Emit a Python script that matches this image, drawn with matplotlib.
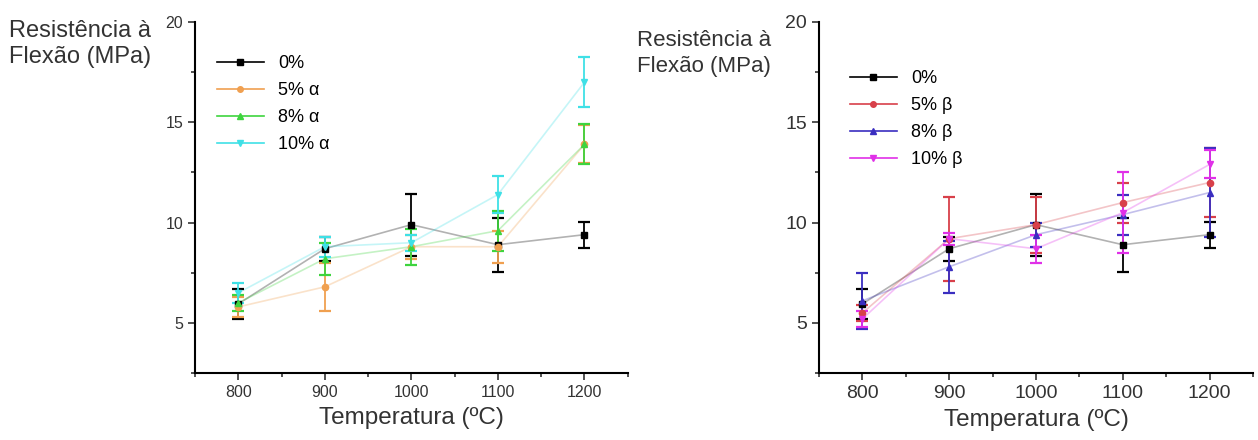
import matplotlib.pyplot as plt
from matplotlib.lines import Line2D
from matplotlib.ticker import MultipleLocator

plt.rcParams['font.family'] = ['Liberation Sans', 'DejaVu Sans']

# Temperaturas de sinterização
temps = [800, 900, 1000, 1100, 1200]

# Resistência à flexão (MPa) - referência
r0 = [5.95, 8.7, 9.9, 8.9, 9.4]
e0 = [0.75, 0.6, 1.55, 1.35, 0.65]

# alfa
a5 = [5.8, 6.8, 8.8, 8.8, 13.9]
ea5 = [0.5, 1.2, 0.6, 0.8, 0.95]
a8 = [6.0, 8.2, 8.8, 9.6, 13.9]
ea8 = [0.4, 0.8, 0.9, 1.0, 1.0]
a10 = [6.5, 8.8, 9.0, 11.4, 17.0]
ea10 = [0.5, 0.5, 0.4, 0.9, 1.25]

# beta
b5 = [5.5, 9.2, 9.9, 11.0, 12.0]
eb5 = [0.4, 2.1, 1.4, 1.0, 1.7]
b8 = [6.1, 7.8, 9.4, 10.4, 11.5]
eb8 = [1.4, 1.3, 0.6, 1.0, 2.2]
b10 = [5.2, 9.2, 8.7, 10.5, 12.9]
eb10 = [0.4, 0.3, 0.7, 2.0, 0.7]

left_series = [
    ("0%", r0, e0, "black", "s"),
    ("5% α", a5, ea5, "#f0a050", "o"),
    ("8% α", a8, ea8, "#3ed43e", "^"),
    ("10% α", a10, ea10, "#3fe0e6", "v"),
]
right_series = [
    ("0%", r0, e0, "black", "s"),
    ("5% β", b5, eb5, "#d8404a", "o"),
    ("8% β", b8, eb8, "#3a2ec0", "^"),
    ("10% β", b10, eb10, "#e030e8", "v"),
]

fig = plt.figure(figsize=(12.58, 4.4), dpi=100)
ax1 = fig.add_axes([0.155, 0.152, 0.344, 0.798])
ax2 = fig.add_axes([0.651, 0.152, 0.345, 0.798])


def draw(ax, series, leg_xy, xsize, ysize):
    handles = []
    for label, y, err, color, mk in series:
        ax.plot(temps, y, color=color, alpha=0.3, lw=1.2, zorder=1)
        ax.errorbar(temps, y, yerr=err, fmt=mk, color=color, ms=4.5,
                    capsize=4.5, capthick=1.6, elinewidth=1.3, zorder=3)
        handles.append(Line2D([], [], color=color, marker=mk, ms=4, lw=1.2,
                              label=label))
    ax.set_xlim(750, 1250)
    ax.set_ylim(2.5, 20)
    ax.xaxis.set_major_locator(MultipleLocator(100))
    ax.xaxis.set_minor_locator(MultipleLocator(50))
    ax.yaxis.set_major_locator(MultipleLocator(5))
    ax.yaxis.set_minor_locator(MultipleLocator(2.5))
    ax.tick_params(which='both', direction='out', width=1.2, colors='#333333')
    ax.tick_params(axis='x', labelsize=xsize)
    ax.tick_params(axis='y', labelsize=ysize)
    ax.tick_params(which='major', length=5)
    ax.tick_params(which='minor', length=3)
    for s in ['top', 'right']:
        ax.spines[s].set_visible(False)
    for s in ['left', 'bottom']:
        ax.spines[s].set_linewidth(1.5)
    ax.set_xlabel("Temperatura (ºC)", fontsize=17.5, color='#333333',
                  labelpad=5)
    ax.legend(handles=handles, loc='upper left', bbox_to_anchor=leg_xy,
              frameon=False, fontsize=13, handlelength=2.6,
              handletextpad=0.8, labelspacing=0.55, borderaxespad=0,
              borderpad=0)


draw(ax1, left_series, (0.05, 0.905), 11.5, 11.5)
draw(ax2, right_series, (0.071, 0.862), 14, 14)

fig.text(0.007, 0.955, "Resistência à\nFlexão (MPa)", fontsize=17,
         color='#333333', va='top', ha='left', linespacing=1.25)
fig.text(0.506, 0.932, "Resistência à\nFlexão (MPa)", fontsize=16,
         color='#333333', va='top', ha='left', linespacing=1.3)

fig.savefig("out.png", dpi=100)
